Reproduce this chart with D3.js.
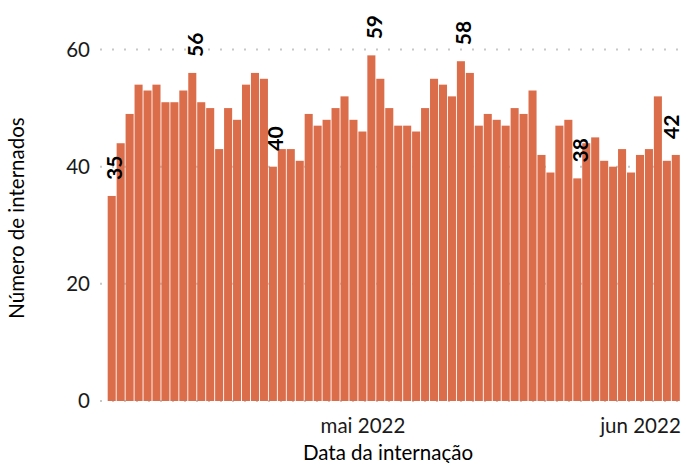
<!DOCTYPE html>
<html><head><meta charset="utf-8">
<script src="https://cdn.jsdelivr.net/npm/d3@7"></script>
<style>body{margin:0;background:#fff}svg{display:block}</style>
</head><body>
<script>
const startDate = "2022-04-03";
const values = [35,44,49,54,53,54,51,51,53,56,51,50,43,50,48,54,56,55,40,43,43,41,49,47,48,50,52,48,46,59,55,50,47,47,46,50,55,54,52,58,56,47,49,48,47,50,49,53,42,39,47,48,38,44,45,41,40,43,39,42,43,52,41,42];
const labelIndex = [0,9,18,29,39,52,63];
const xTickDates = ["2022-05-01","2022-06-01"];
const xTickLabels = ["mai 2022","jun 2022"];
const yTicks = [0,20,40,60];

const W=683,H=463;
const parse=d3.timeParse("%Y-%m-%d");
const d0=parse(startDate);
const data=values.map((v,i)=>({date:d3.timeDay.offset(d0,i),v}));
const key=d=>d3.timeFormat("%Y-%m-%d")(d);

const svg=d3.select("body").append("svg").attr("width",W).attr("height",H);
const x=d3.scaleBand().domain(data.map(d=>key(d.date))).range([107.5,680]).paddingInner(0.1).paddingOuter(0.02);
const y=d3.scaleLinear().domain([0,60]).range([401,49.5]);
const font="Lato, 'Open Sans', sans-serif";
const fs=20.5;

// grid
svg.append("g").selectAll("line").data(yTicks).join("line")
 .attr("x1",100).attr("x2",680).attr("y1",d=>y(d)).attr("y2",d=>y(d))
 .attr("stroke","#c8c8c8").attr("stroke-width",2).attr("stroke-dasharray","2,10");

// bars
svg.append("g").selectAll("rect").data(data).join("rect")
 .attr("x",d=>x(key(d.date))).attr("width",x.bandwidth())
 .attr("y",d=>y(d.v)).attr("height",d=>y(0)-y(d.v))
 .attr("fill","#dc6d4b");

// labels
svg.append("g").selectAll("text").data(labelIndex.map(i=>data[i])).join("text")
 .attr("transform",d=>{
   const cx=Math.min(x(key(d.date))+x.bandwidth()/2+3, W-12);
   return `translate(${cx},${y(d.v)-16}) rotate(-90)`;})
 .attr("dy","0.36em")
 .attr("font-family",font).attr("font-weight","bold").attr("font-size",21).attr("fill","#000")
 .text(d=>d.v);

// y axis
const ya=svg.append("g").attr("transform","translate(90,0)")
 .call(d3.axisLeft(y).tickValues(yTicks).tickSize(0).tickPadding(0));
ya.select(".domain").remove();
ya.selectAll("text").attr("font-family",font).attr("font-size",fs).attr("fill","#1a1a1a");

// x axis
const xt=d3.scaleTime().domain([d0,d3.timeDay.offset(d0,values.length-1)])
 .range([x(key(d0))+x.bandwidth()/2, x(key(data[data.length-1].date))+x.bandwidth()/2]);
const xa=svg.append("g").attr("transform","translate(0,410)")
 .call(d3.axisBottom(xt).tickValues(xTickDates.map(parse)).tickSize(0).tickPadding(8)
 .tickFormat((d,i)=>xTickLabels[i]));
xa.select(".domain").remove();
xa.selectAll("text").attr("font-family",font).attr("font-size",fs).attr("fill","#1a1a1a");

// titles
svg.append("text").attr("x",388).attr("y",460).attr("text-anchor","middle")
 .attr("font-family",font).attr("font-size",fs).attr("fill","#000").text("Data da internação");
svg.append("text").attr("transform","translate(24,218) rotate(-90)").attr("text-anchor","middle")
 .attr("font-family",font).attr("font-size",fs).attr("fill","#000").text("Número de internados");
</script>
</body></html>
